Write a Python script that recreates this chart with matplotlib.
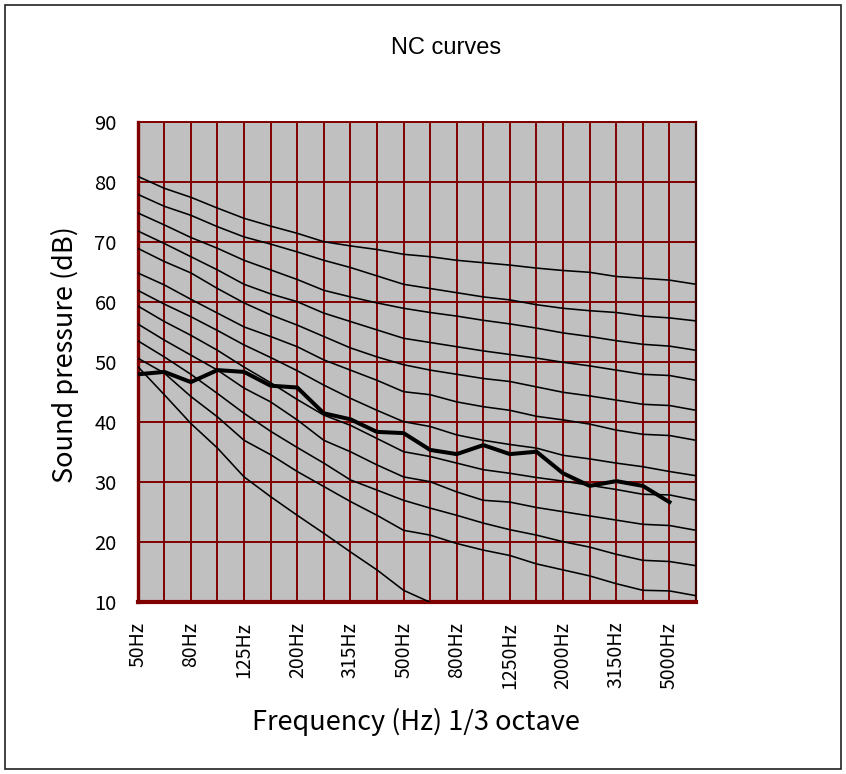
import numpy as np
import matplotlib
matplotlib.use("Agg")
import matplotlib.pyplot as plt
from matplotlib.patches import Rectangle

# 1/3 octave band centres (Hz)
bands = ["50Hz", "63Hz", "80Hz", "100Hz", "125Hz", "160Hz", "200Hz", "250Hz",
         "315Hz", "400Hz", "500Hz", "630Hz", "800Hz", "1000Hz", "1250Hz",
         "1600Hz", "2000Hz", "2500Hz", "3150Hz", "4000Hz", "5000Hz", "6300Hz"]

# NC reference curves (dB)
nc65 = [81.0, 79.0, 77.5, 75.7, 74.0, 72.7, 71.5, 70.1, 69.4, 68.8, 68.0,
        67.6, 67.0, 66.6, 66.2, 65.7, 65.3, 65.0, 64.3, 64.0, 63.7, 63.0]
nc60 = [78.0, 76.0, 74.5, 72.6, 70.9, 69.7, 68.4, 67.0, 65.8, 64.4, 63.0,
        62.3, 61.6, 60.9, 60.4, 59.6, 59.0, 58.6, 58.3, 57.7, 57.4, 56.9]
nc55 = [74.9, 72.9, 70.8, 69.0, 67.0, 65.4, 63.8, 62.0, 60.9, 59.9, 59.0,
        58.3, 57.7, 57.0, 56.4, 55.7, 54.9, 54.3, 53.6, 53.0, 52.7, 52.0]
nc50 = [71.9, 69.8, 67.6, 65.4, 63.0, 61.4, 60.1, 58.2, 56.8, 55.4, 54.0,
        53.3, 52.6, 51.9, 51.3, 50.7, 50.0, 49.4, 48.7, 48.0, 47.8, 47.0]
nc45 = [69.0, 66.8, 64.9, 62.3, 59.9, 57.9, 56.2, 54.3, 52.4, 50.9, 49.6,
        48.7, 48.0, 47.3, 46.8, 45.9, 45.0, 44.4, 43.7, 43.0, 42.8, 42.0]
nc40 = [64.9, 62.9, 60.5, 58.2, 55.9, 54.3, 52.6, 50.4, 48.7, 47.0, 45.1,
        44.6, 43.4, 42.6, 42.0, 41.0, 40.4, 39.7, 38.7, 38.0, 37.8, 37.0]
nc35 = [62.0, 59.7, 57.6, 55.3, 52.9, 50.8, 48.6, 46.2, 44.0, 42.0, 40.1,
        39.3, 37.9, 37.0, 36.3, 35.7, 34.5, 33.9, 33.2, 32.6, 31.8, 31.1]
nc30 = [59.4, 56.8, 54.5, 52.0, 49.2, 46.6, 43.8, 41.2, 39.5, 37.3, 35.1,
        34.3, 33.2, 32.1, 31.5, 30.8, 30.2, 29.5, 28.8, 28.0, 27.9, 27.0]
nc25 = [56.4, 53.7, 51.2, 48.7, 45.7, 43.4, 40.4, 37.0, 35.1, 32.9, 30.9,
        30.1, 28.4, 27.0, 26.7, 25.8, 25.1, 24.4, 23.7, 23.0, 22.8, 22.0]
nc20 = [53.6, 50.9, 48.0, 44.8, 41.5, 38.5, 35.8, 33.2, 30.4, 28.7, 27.0,
        25.7, 24.5, 23.2, 22.1, 21.2, 20.1, 19.2, 18.0, 17.0, 16.8, 16.1]
nc15 = [50.7, 48.2, 44.3, 40.9, 37.0, 34.6, 31.8, 29.3, 26.8, 24.5, 22.0,
        21.2, 19.8, 18.7, 17.8, 16.4, 15.4, 14.4, 13.1, 12.0, 11.9, 11.1]
threshold = [49.3, 44.6, 39.8, 35.7, 30.9, 27.6, 24.5, 21.5, 18.4, 15.4, 12.0,
             10.0]

# measured spectrum (bold line), 50Hz .. 5000Hz
measured = [48.0, 48.4, 46.7, 48.7, 48.4, 46.1, 45.8, 41.5, 40.5, 38.4, 38.2,
            35.4, 34.7, 36.2, 34.7, 35.1, 31.5, 29.4, 30.2, 29.4, 26.7]

nc_curves = [nc65, nc60, nc55, nc50, nc45, nc40, nc35, nc30, nc25, nc20, nc15,
             threshold]

jp_font = ["Noto Sans CJK JP", "DejaVu Sans"]
grid_red = "#800000"

W, H = 846, 774
fig = plt.figure(figsize=(W / 100, H / 100), dpi=100)
ax = fig.add_axes([137.7 / W, 1 - 602.3 / H, (696 - 137.7) / W, (602.3 - 122.3) / H])
ax.set_facecolor("#c0c0c0")

x = np.arange(len(bands))
for curve in nc_curves:
    ax.plot(x[:len(curve)], curve, color="black", lw=1.15, zorder=3)
ax.plot(x[:len(measured)], measured, color="black", lw=2.9, zorder=4,
        solid_joinstyle="miter")

ax.set_xlim(0, len(bands) - 1)
ax.set_ylim(10, 90)
ax.set_xticks(x[::2])
ax.set_xticklabels(bands[::2], rotation=90, va="top", ha="center",
                   family=jp_font, fontsize=14)
ax.set_xticks(x[1::2], minor=True)
ax.set_yticks(np.arange(10, 91, 10))
ax.set_yticklabels([str(v) for v in range(10, 91, 10)], family=jp_font, fontsize=14.5)
ax.tick_params(axis="both", which="both", length=0)
ax.tick_params(axis="x", pad=14)
ax.tick_params(axis="y", pad=15)
ax.set_axisbelow(True)
ax.grid(True, which="both", color=grid_red, lw=1.4)

ax.spines["left"].set_color(grid_red)
ax.spines["left"].set_linewidth(2.4)
ax.spines["bottom"].set_color(grid_red)
ax.spines["bottom"].set_linewidth(3.0)
ax.spines["top"].set_color(grid_red)
ax.spines["top"].set_linewidth(1.4)
ax.spines["right"].set_color("#3a0000")
ax.spines["right"].set_linewidth(1.6)

fig.text(446 / W, 1 - 48 / H, "NC curves", ha="center", va="center",
         family="Liberation Sans", fontsize=17)
fig.text(65 / W, 1 - 355 / H, "Sound pressure (dB)", rotation=90,
         ha="center", va="center", family=jp_font, fontsize=19.5)
fig.text(416 / W, 1 - 722 / H, "Frequency (Hz) 1/3 octave", ha="center",
         va="center", family=jp_font, fontsize=19.5)

fig.patches.append(Rectangle((5 / W, 5 / H), 836 / W, 764 / H, transform=fig.transFigure,
                             fill=False, edgecolor="#222222", lw=1.2))

fig.savefig("out.png", dpi=100)
